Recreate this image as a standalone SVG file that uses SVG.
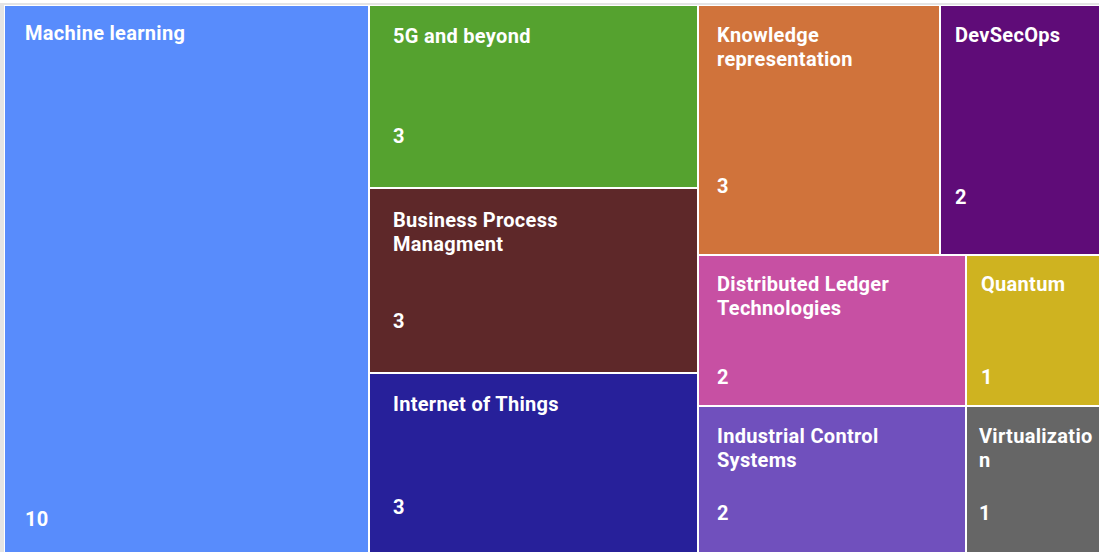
<svg xmlns="http://www.w3.org/2000/svg" width="1099" height="552" viewBox="0 0 1099 552">
<style>
.t{font-family:Roboto,"Open Sans","Liberation Sans",sans-serif;font-weight:700;font-size:20px;letter-spacing:0.3px;fill:#ffffff}
</style>
<rect x="0" y="0" width="1099" height="552" fill="#ffffff"/>
<rect x="0" y="3" width="1099" height="549" fill="#e4e4e4"/>
<rect x="4" y="5" width="1095" height="547" fill="#ffffff"/>
<g id="machine-learning"><rect x="5" y="6" width="363" height="546" fill="#588cfc"/><text class="t" x="25" y="40">Machine learning</text><text class="t" x="25" y="526">10</text></g>
<g id="5g"><rect x="370" y="6" width="327" height="181" fill="#55a22f"/><text class="t" x="393" y="43">5G and beyond</text><text class="t" x="393" y="143">3</text></g>
<g id="bpm"><rect x="370" y="189" width="327" height="183" fill="#5e2829"/><text class="t" x="393" y="227">Business Process</text><text class="t" x="393" y="251">Managment</text><text class="t" x="393" y="328">3</text></g>
<g id="iot"><rect x="370" y="374" width="327" height="178" fill="#27209a"/><text class="t" x="393" y="411">Internet of Things</text><text class="t" x="393" y="514">3</text></g>
<g id="knowledge"><rect x="699" y="6" width="240" height="248" fill="#d0733b"/><text class="t" x="717" y="42">Knowledge</text><text class="t" x="717" y="66">representation</text><text class="t" x="717" y="193">3</text></g>
<g id="devsecops"><rect x="941" y="6" width="158" height="248" fill="#5f0c78"/><text class="t" x="955" y="42">DevSecOps</text><text class="t" x="955" y="204">2</text></g>
<g id="dlt"><rect x="699" y="256" width="266" height="149" fill="#c750a3"/><text class="t" x="717" y="291">Distributed Ledger</text><text class="t" x="717" y="315">Technologies</text><text class="t" x="717" y="384">2</text></g>
<g id="quantum"><rect x="967" y="256" width="132" height="149" fill="#cfb320"/><text class="t" x="981" y="291">Quantum</text><text class="t" x="981" y="384">1</text></g>
<g id="ics"><rect x="699" y="407" width="266" height="145" fill="#7050bd"/><text class="t" x="717" y="443">Industrial Control</text><text class="t" x="717" y="467">Systems</text><text class="t" x="717" y="520">2</text></g>
<g id="virtualization"><rect x="967" y="407" width="132" height="145" fill="#666666"/><text class="t" x="979" y="443">Virtualizatio</text><text class="t" x="979" y="467">n</text><text class="t" x="979" y="520">1</text></g>
<g id="connectors"></g>
</svg>
